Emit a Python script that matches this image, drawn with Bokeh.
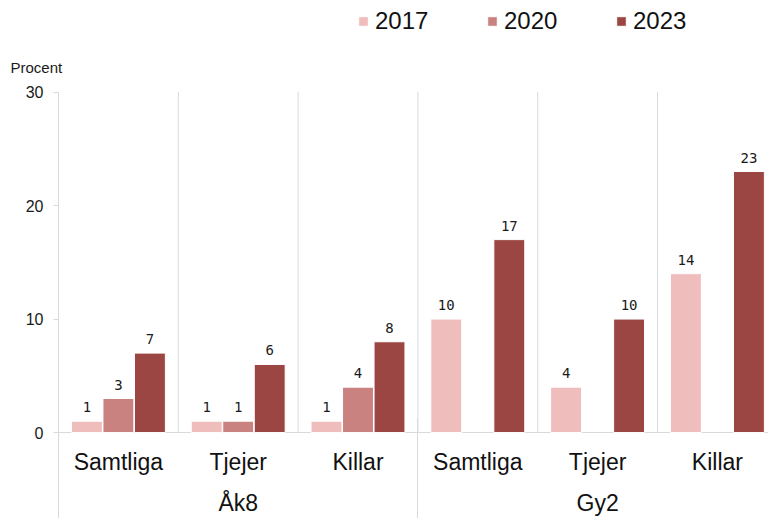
from bokeh.plotting import figure
from bokeh.models import (ColumnDataSource, Range1d, FixedTicker, LinearAxis, Legend,
                          LegendItem, Label)
from bokeh.transform import dodge
from bokeh.core.properties import value
from bokeh.embed import file_html
from bokeh.resources import INLINE

# ---- data ----
groups = ["Åk8", "Gy2"]
subgroups = ["Samtliga", "Tjejer", "Killar"]
years = ["2017", "2020", "2023"]
v2017 = [1, 1, 1, 10, 4, 14]
v2020 = [3, 1, 4, None, None, None]
v2023 = [7, 6, 8, 17, 10, 23]
y_ticks = [0, 10, 20, 30]

colors = ["#F0BDBD", "#C98280", "#9B4643"]
grid_color = "#D9D9D9"
label_font = "Liberation Sans"

n_cat = len(groups) * len(subgroups)
xs = list(range(n_cat))
series = [v2017, v2020, v2023]
y_max = max(y_ticks)


def clean(vals):
    return [float("nan") if v is None else v for v in vals]


def lbls(vals):
    return ["" if v is None else str(v) for v in vals]


data = dict(x=xs)
for yr, vals in zip(years, series):
    data["v" + yr] = clean(vals)
    data["l" + yr] = lbls(vals)
source = ColumnDataSource(data)

# frame covers x 0..768, y 0..446 ; one category = 119.8 px, 30 units = 342 px (zero at 434)
cat_px = 119.8
x_start = -0.5 - 58 / cat_px
x_end = x_start + 768 / cat_px
px_per_unit = 342 / y_max
p = figure(width=768, height=518, x_range=Range1d(x_start, x_end),
           y_range=Range1d(-12 / px_per_unit, 434 / px_per_unit),
           output_backend="svg", toolbar_location=None, x_axis_location=None,
           min_border_left=0, min_border_right=0, min_border_top=0, min_border_bottom=72)
p.outline_line_color = None
p.grid.visible = False

# category separators (up to the top tick) and baseline
bounds = [i - 0.5 for i in range(n_cat + 1)]
sep_src = ColumnDataSource(dict(x=bounds, y0=[0] * len(bounds), y1=[y_max] * len(bounds)))
p.segment(x0="x", y0="y0", x1="x", y1="y1", source=sep_src, line_color=grid_color, line_width=1)
p.segment(x0=[bounds[0]], y0=[0], x1=[bounds[-1]], y1=[0], line_color=grid_color, line_width=1)

offsets = [-0.263, 0.0, 0.263]
bar_w = 0.258
renderers = []
for yr, off, col in zip(years, offsets, colors):
    r = p.vbar(x=dodge("x", off, range=p.x_range), top="v" + yr, width=bar_w, source=source,
               fill_color=col, line_color="white", line_width=1)
    renderers.append(r)
    p.text(x=dodge("x", off, range=p.x_range), y="v" + yr, text="l" + yr, source=source,
           text_align="center", text_baseline="bottom", y_offset=-9,
           text_font=value("DejaVu Sans Mono"), text_font_size="14px", text_color="#1a1a1a")

# y axis, pinned at the first category boundary
ya = p.yaxis[0]
ya.fixed_location = bounds[0]
ya.ticker = FixedTicker(ticks=y_ticks)
ya.axis_line_color = None
ya.major_tick_out = 5
ya.major_tick_in = 0
ya.major_tick_line_color = grid_color
ya.minor_tick_line_color = None
ya.major_label_standoff = 10
ya.major_label_text_font = label_font
ya.major_label_text_font_size = "16px"
ya.major_label_text_color = "#1a1a1a"

# x axis 1: subgroup labels
sub_labels = {}
i = 0
for g in groups:
    for s in subgroups:
        sub_labels[i] = s
        i += 1
ax1 = LinearAxis(ticker=FixedTicker(ticks=xs), major_label_overrides=sub_labels)
ax1.axis_line_color = None
ax1.major_tick_line_color = None
ax1.minor_tick_line_color = None
ax1.major_tick_out = 0
ax1.major_tick_in = 0
ax1.major_label_standoff = 4
ax1.major_label_text_font = label_font
ax1.major_label_text_font_size = "23px"
ax1.major_label_text_color = "#111111"
p.add_layout(ax1, "below")

# x axis 2: group labels
grp_pos = {}
for gi, g in enumerate(groups):
    grp_pos[gi * len(subgroups) + (len(subgroups) - 1) // 2] = g
ax2 = LinearAxis(ticker=FixedTicker(ticks=list(grp_pos.keys())),
                 major_label_overrides=grp_pos)
ax2.axis_line_color = None
ax2.major_tick_line_color = None
ax2.minor_tick_line_color = None
ax2.major_tick_out = 0
ax2.major_tick_in = 0
ax2.major_label_standoff = 12
ax2.major_label_text_font = label_font
ax2.major_label_text_font_size = "23px"
ax2.major_label_text_color = "#111111"
p.add_layout(ax2, "below")

# x axis 3: group separators reaching up through the label rows
grp_bounds = [gi * len(subgroups) - 0.5 for gi in range(len(groups) + 1)]
ax3 = LinearAxis(ticker=FixedTicker(ticks=[], minor_ticks=grp_bounds))
ax3.axis_line_color = None
ax3.major_tick_line_color = None
ax3.major_tick_out = 0
ax3.major_tick_in = 0
ax3.minor_tick_line_color = grid_color
ax3.minor_tick_in = 100
ax3.minor_tick_out = 0
ax3.major_label_standoff = 0
ax3.major_label_text_font_size = "0px"
p.add_layout(ax3, "below")

# unit label
p.add_layout(Label(x=bounds[0], y=y_max, x_offset=-48, y_offset=25, text="Procent",
                   text_font=label_font, text_font_size="15px", text_color="#1a1a1a",
                   text_baseline="middle", text_align="left"))

legend = Legend(items=[LegendItem(label=yr, renderers=[r]) for yr, r in zip(years, renderers)],
                orientation="horizontal", location=(357, 409), glyph_width=12, glyph_height=12,
                label_text_font=label_font, label_text_font_size="24px", label_text_color="#111111",
                label_standoff=6, label_width=60, spacing=51, padding=0, margin=0,
                border_line_color=None, background_fill_alpha=0)
p.add_layout(legend, "center")

open("out.html", "w").write(file_html(p, INLINE))
